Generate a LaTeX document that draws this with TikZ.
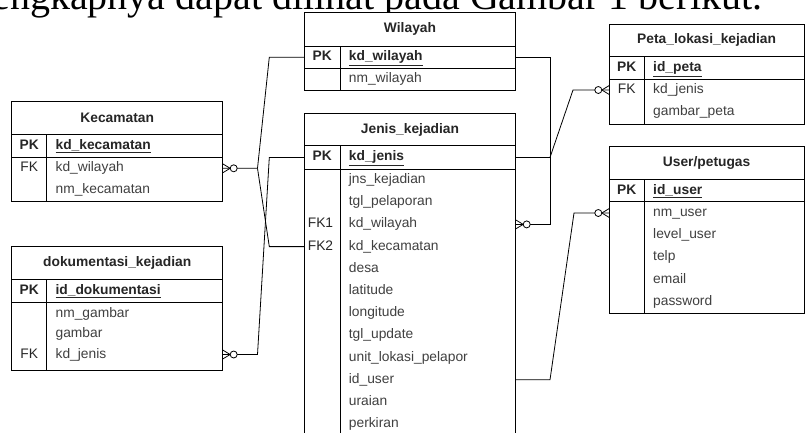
\documentclass[tikz,border=0pt]{standalone}
\usepackage{fontspec}
\setmainfont{Liberation Sans}
\newfontfamily\bodyserif{Liberation Serif}
\usetikzlibrary{calc}

\begin{document}
\begin{tikzpicture}[
    x=1pt, y=-1pt,
    line width=0.8pt,
    font=\fontsize{13.8}{16}\selectfont,
    frame/.style={
        draw,
        fill=white,
        anchor=north west,
        inner sep=0pt,
        outer sep=0pt
    },
    ttl/.style={
        font=\fontsize{13.8}{16}\selectfont\bfseries,
        text=black!85
    },
    key/.style={
        inner sep=0pt,
        text height=10pt,
        text depth=3pt,
        text=black!85
    },
    pkkey/.style={
        key,
        font=\fontsize{13.8}{16}\selectfont\bfseries
    },
    fld/.style={
        anchor=west,
        inner sep=0pt,
        text height=10pt,
        text depth=3pt,
        text=black!75
    },
    pkfld/.style={
        fld,
        text=black!85,
        font=\fontsize{13.8}{16}\selectfont\bfseries
    },
    zmany/.pic={
        \draw (0,-4.5) -- (7.5,0) -- (0,4.5);
        \draw[fill=white] (11,0) circle[radius=3.5];
    }
]
\useasboundingbox (0,0) rectangle (808,432);
\clip (0,0) rectangle (808,432);

% =========================================================
% page text above the figure
% =========================================================
\node[anchor=base west, inner sep=0pt, font=\bodyserif\fontsize{40}{44}\selectfont]
    (cap) at (-8,9) {engkapnya dapat dilihat pada Gambar 1 berikut.};

% =========================================================
% Wilayah
% =========================================================
\node[frame, minimum width=211.4pt, minimum height=77.3pt] (wil) at (304.3,12.7) {};
\draw (wil.north west) ++(0,33.3) -- ++(211.4,0);
\draw (wil.north west) ++(0,55.6) -- ++(211.4,0);
\draw ($(wil.north west)+(35.7,33.3)$) -- ($(wil.south west)+(35.7,0)$);
\node[ttl]   (wil-t)  at (410,29.3)   {Wilayah};
\node[pkkey] (wil-k)  at (322.2,57.2) {PK};
\node[pkfld] (wil-pk) at (348.5,57.2) {\underline{kd\_wilayah}};
\node[fld]   (wil-nm) at (348.5,79.2) {nm\_wilayah};

% =========================================================
% Jenis_kejadian
% =========================================================
\node[frame, minimum width=211.4pt, minimum height=330pt] (jen) at (304.3,113.3) {};
\draw (jen.north west) ++(0,32.4) -- ++(211.4,0);
\draw (jen.north west) ++(0,55.7) -- ++(211.4,0);
\draw ($(jen.north west)+(35.7,32.4)$) -- ($(jen.south west)+(35.7,0)$);
\node[ttl]   (jen-t)   at (410,129.5)   {Jenis\_kejadian};
\node[pkkey] (jen-k)   at (322.2,157.4) {PK};
\node[pkfld] (jen-pk)  at (348.5,157.4) {\underline{kd\_jenis}};
\node[fld]   (jen-jns) at (348.5,180.0) {jns\_kejadian};
\node[fld]   (jen-tgl) at (348.5,202.2) {tgl\_pelaporan};
\node[key]   (jen-k1)  at (320.5,224.4) {FK1};
\node[fld]   (jen-wil) at (348.5,224.4) {kd\_wilayah};
\node[key]   (jen-k2)  at (320.5,246.6) {FK2};
\node[fld]   (jen-kec) at (348.5,246.6) {kd\_kecamatan};
\node[fld]   (jen-ds)  at (348.5,268.8) {desa};
\node[fld]   (jen-lat) at (348.5,291.0) {latitude};
\node[fld]   (jen-lon) at (348.5,313.2) {longitude};
\node[fld]   (jen-upd) at (348.5,335.4) {tgl\_update};
\node[fld]   (jen-unt) at (348.5,357.6) {unit\_lokasi\_pelapor};
\node[fld]   (jen-usr) at (348.5,379.8) {id\_user};
\node[fld]   (jen-ur)  at (348.5,402.0) {uraian};
\node[fld]   (jen-prk) at (348.5,424.2) {perkiran};

% =========================================================
% Kecamatan
% =========================================================
\node[frame, minimum width=211pt, minimum height=100.7pt] (kec) at (11.7,101) {};
\draw (kec.north west) ++(0,33.3) -- ++(211,0);
\draw (kec.north west) ++(0,56.3) -- ++(211,0);
\draw ($(kec.north west)+(35,33.3)$) -- ($(kec.south west)+(35,0)$);
\node[ttl]   (kec-t)  at (117.2,117.7) {Kecamatan};
\node[pkkey] (kec-k)  at (29.2,145.8)  {PK};
\node[pkfld] (kec-pk) at (55.2,145.8)  {\underline{kd\_kecamatan}};
\node[key]   (kec-f)  at (29.2,168.3)  {FK};
\node[fld]   (kec-wil) at (55.2,168.3) {kd\_wilayah};
\node[fld]   (kec-nm) at (55.2,190.0)  {nm\_kecamatan};

% =========================================================
% dokumentasi_kejadian
% =========================================================
\node[frame, minimum width=211pt, minimum height=123.3pt] (dok) at (11.7,246.7) {};
\draw (dok.north west) ++(0,32.6) -- ++(211,0);
\draw (dok.north west) ++(0,56) -- ++(211,0);
\draw ($(dok.north west)+(35,32.6)$) -- ($(dok.south west)+(35,0)$);
\node[ttl]   (dok-t)   at (117.2,263)  {dokumentasi\_kejadian};
\node[pkkey] (dok-k)   at (29.2,291)   {PK};
\node[pkfld] (dok-pk)  at (55.2,291)   {\underline{id\_dokumentasi}};
\node[fld]   (dok-nm)  at (55.2,313.5) {nm\_gambar};
\node[fld]   (dok-gb)  at (55.2,334)   {gambar};
\node[key]   (dok-f)   at (29.2,354.5) {FK};
\node[fld]   (dok-jen) at (55.2,354.5) {kd\_jenis};

% =========================================================
% Peta_lokasi_kejadian
% =========================================================
\node[frame, minimum width=194.7pt, minimum height=100pt] (pet) at (609.3,24) {};
\draw (pet.north west) ++(0,32.7) -- ++(194.7,0);
\draw (pet.north west) ++(0,55.3) -- ++(194.7,0);
\draw ($(pet.north west)+(35,32.7)$) -- ($(pet.south west)+(35,0)$);
\node[ttl]   (pet-t)   at (706.6,40.3) {Peta\_lokasi\_kejadian};
\node[pkkey] (pet-k)   at (626.7,68)   {PK};
\node[pkfld] (pet-pk)  at (652.8,68)   {\underline{id\_peta}};
\node[key]   (pet-f)   at (626.7,90)   {FK};
\node[fld]   (pet-jen) at (652.8,90)   {kd\_jenis};
\node[fld]   (pet-gb)  at (652.8,112.3) {gambar\_peta};

% =========================================================
% User/petugas
% =========================================================
\node[frame, minimum width=194.7pt, minimum height=166.6pt] (usr) at (609.3,146.7) {};
\draw (usr.north west) ++(0,32.6) -- ++(194.7,0);
\draw (usr.north west) ++(0,55) -- ++(194.7,0);
\draw ($(usr.north west)+(35,32.6)$) -- ($(usr.south west)+(35,0)$);
\node[ttl]   (usr-t)  at (706.6,163)   {User/petugas};
\node[pkkey] (usr-k)  at (626.7,190.5) {PK};
\node[pkfld] (usr-pk) at (652.8,190.5) {\underline{id\_user}};
\node[fld]   (usr-nm) at (652.8,213.0) {nm\_user};
\node[fld]   (usr-lv) at (652.8,235.2) {level\_user};
\node[fld]   (usr-tl) at (652.8,257.4) {telp};
\node[fld]   (usr-em) at (652.8,279.6) {email};
\node[fld]   (usr-pw) at (652.8,301.8) {password};

% =========================================================
% relations
% =========================================================
\draw (wil.west |- wil-pk) -- ++(-35,0)
    -- ($(kec.east |- kec-wil)+(34.8,0)$) -- (kec.east |- kec-wil);
\draw (jen.west |- jen-kec) -- ++(-35,0)
    -- ($(kec.east |- kec-wil)+(34.8,0)$);
\draw (jen.west |- jen-pk) -- ++(-35,0)
    -- ($(dok.east |- dok-jen)+(34.8,0)$) -- (dok.east |- dok-jen);

\draw (wil.east |- wil-pk) -- ++(34.3,0) |- (jen.east |- jen-wil);
\draw (jen.east |- jen-pk) -- ++(34.3,0)
    -- ($(pet.west |- pet-jen)+(-36.3,0)$) -- (pet.west |- pet-jen);
\draw (jen.east |- jen-usr) -- ++(34.3,0)
    -- ($(usr.west |- usr-nm)+(-35.3,0)$) -- (usr.west |- usr-nm);

% zero-or-many ends
\pic at (kec.east |- kec-wil) {zmany};
\pic at (dok.east |- dok-jen) {zmany};
\pic at (jen.east |- jen-wil) {zmany};
\pic[rotate=180] at (pet.west |- pet-jen) {zmany};
\pic[rotate=180] at (usr.west |- usr-nm) {zmany};

\end{tikzpicture}
\end{document}
